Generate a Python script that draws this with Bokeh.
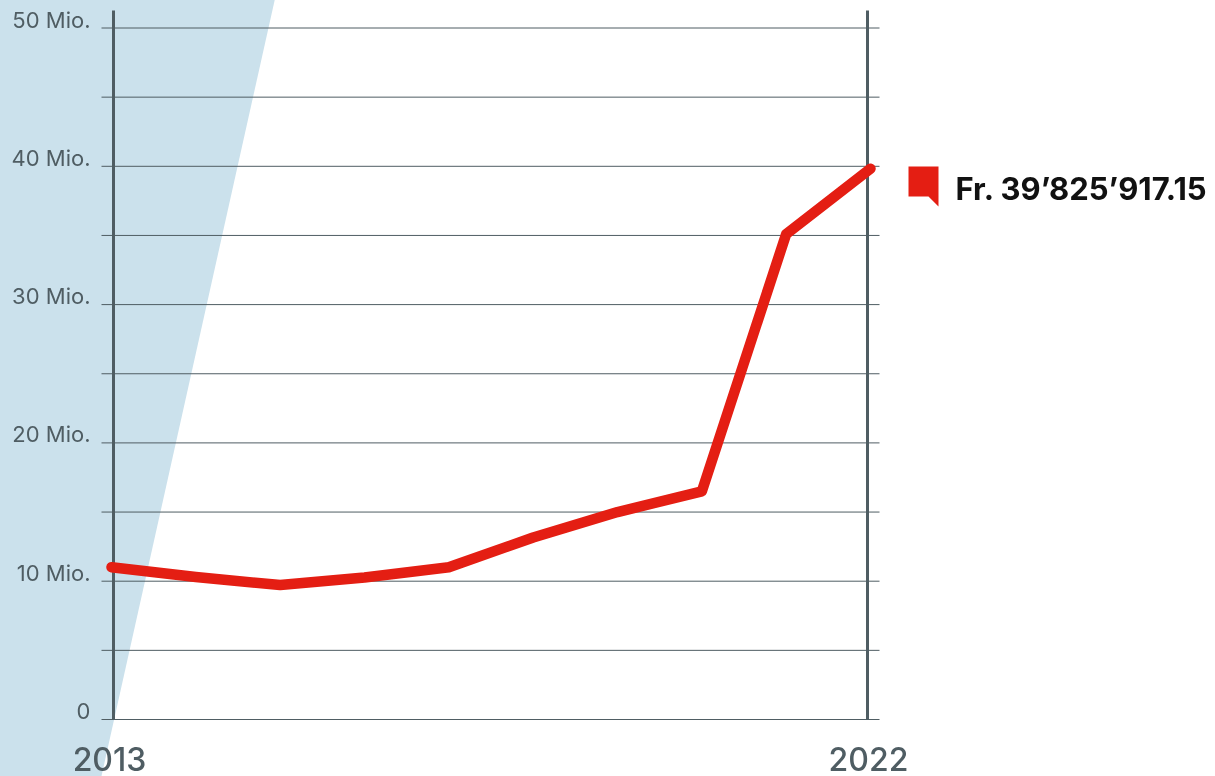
from bokeh.plotting import figure
from bokeh.core.properties import value
from bokeh.embed import file_html
from bokeh.resources import INLINE

years = [2013, 2014, 2015, 2016, 2017, 2018, 2019, 2020, 2021, 2022]
amounts = [11.01, 10.3, 9.72, 10.27, 11.01, 13.16, 15.0, 16.5, 35.1, 39.826]
grid_values = [0, 5, 10, 15, 20, 25, 30, 35, 40, 45, 50]
y_tick_values = [0, 10, 20, 30, 40, 50]
y_tick_labels = ["0", "10 Mio.", "20 Mio.", "30 Mio.", "40 Mio.", "50 Mio."]
x_tick_labels = ["2013", "2022"]
callout = "Fr. 39\u2019825\u2019917.15"

W, H = 1215, 776
PX_YEAR = (870 - 111) / 9
PX_MIO = (719 - 27.5) / 50

def xd(px):
    return 2013 + (px - 111) / PX_YEAR

def yd(py):
    return (719 - py) / PX_MIO

p = figure(width=W + 2, height=H + 2, output_backend="svg", toolbar_location=None,
           x_range=(xd(-1), xd(W + 1)), y_range=(yd(H + 1), yd(-1)),
           min_border=0, outline_line_color=None)
p.styles = {"position": "fixed", "left": "-1px", "top": "-1px"}
p.xaxis.visible = False
p.yaxis.visible = False
p.grid.visible = False

INK = "#4f5d63"
p.patch([xd(-4), xd(275), xd(100), xd(-4)], [yd(-4), yd(-4), yd(780), yd(780)],
        fill_color="#cbe1ec", line_color=None)
p.segment(x0=[xd(101)] * len(grid_values), x1=[xd(879)] * len(grid_values),
          y0=grid_values, y1=grid_values, line_color=INK, line_width=1)
p.segment(x0=[xd(113), xd(867)], x1=[xd(113), xd(867)], y0=[0, 0], y1=[yd(10), yd(10)],
          line_color=INK, line_width=3)
p.line(years, amounts, line_color="#e41e13", line_width=10.5,
       line_join="round", line_cap="round")
p.text(x=[xd(90)] * len(y_tick_values), y=y_tick_values, text=y_tick_labels,
       y_offset=-8.5, text_align="right", text_baseline="middle",
       text_font=value("Inter"), text_font_size="22px", text_color=INK)
p.text(x=[xd(109), xd(868)], y=[0, 0], text=x_tick_labels, y_offset=39.5,
       text_align="center", text_baseline="middle", text_line_height=0.9,
       text_font=value("Inter Medium"), text_font_size="32px", text_color=INK)
p.patch([xd(908), xd(938), xd(938), xd(928), xd(908)],
        [yd(166), yd(166), yd(206), yd(196), yd(196)],
        fill_color="#e41e13", line_color=None)
p.text(x=[xd(955)], y=[amounts[-1]], text=[callout], y_offset=20,
       text_align="left", text_baseline="middle",
       text_font=value("Inter"), text_font_size="31px", text_font_style="bold",
       text_color="#111111")

open("out.html", "w").write(file_html(p, INLINE))
